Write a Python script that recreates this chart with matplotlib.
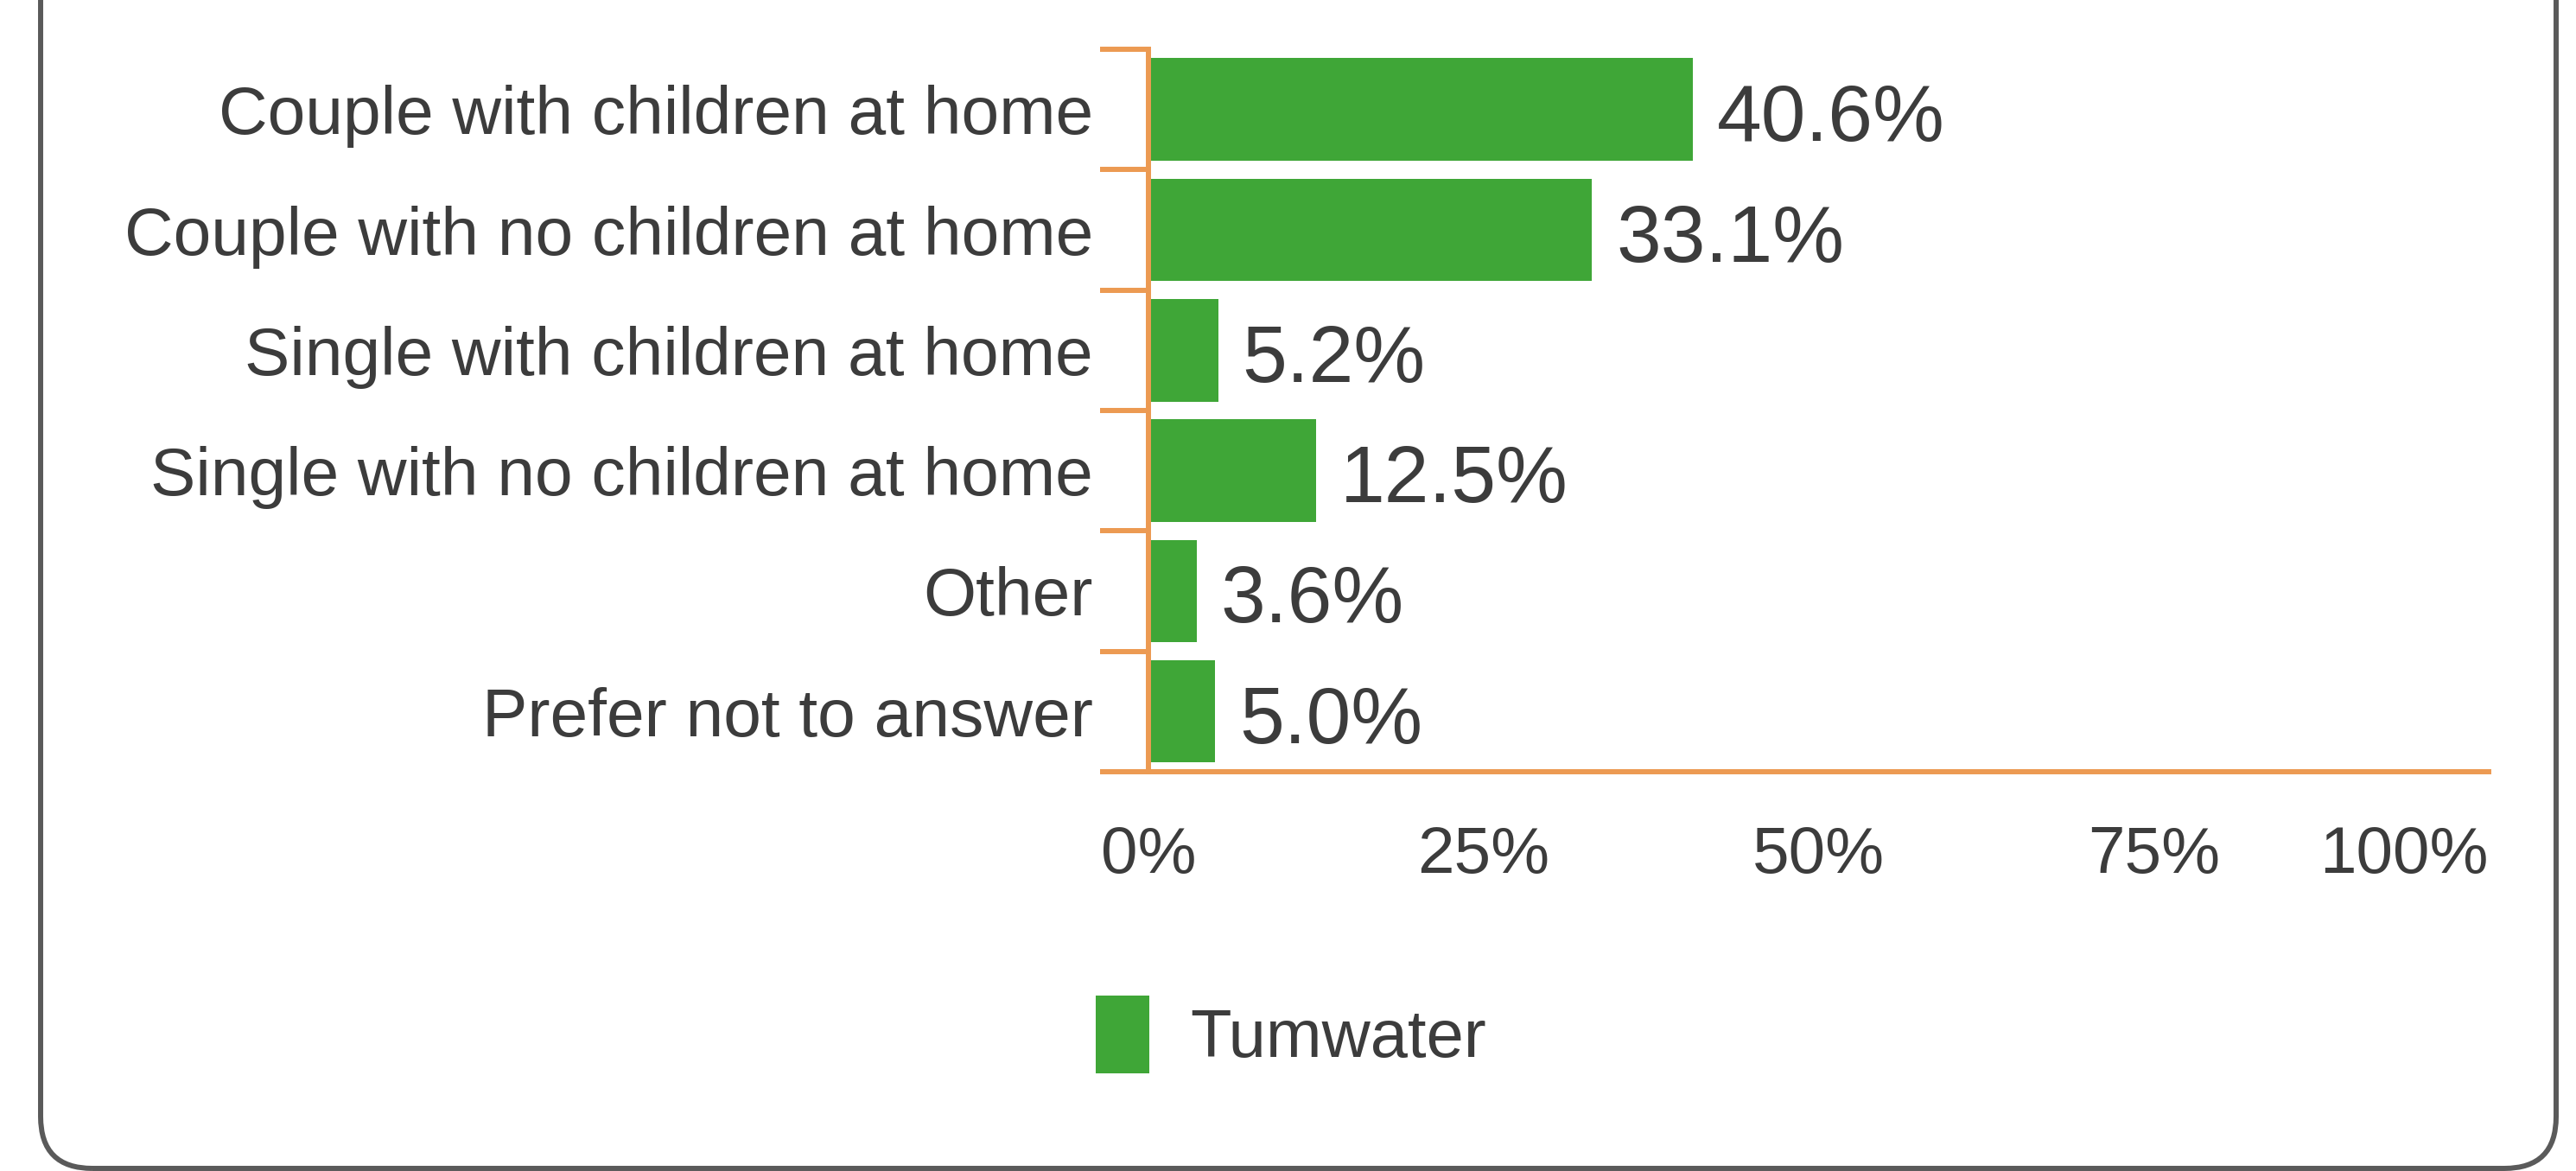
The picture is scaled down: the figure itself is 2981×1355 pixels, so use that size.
import numpy as np
import matplotlib.pyplot as plt
from matplotlib.patches import FancyBboxPatch
from matplotlib.transforms import IdentityTransform

categories = ['Couple with children at home', 'Couple with no children at home',
              'Single with children at home', 'Single with no children at home',
              'Other', 'Prefer not to answer']
tumwater = [40.6, 33.1, 5.2, 12.5, 3.6, 5.0]
xtick_vals = [0, 25, 50, 75, 100]
xtick_labels = ['0%', '25%', '50%', '75%', '100%']
series_name = 'Tumwater'

green = '#3fa637'
orange = '#ec9a52'
txt = '#3c3c3c'

plt.rcParams['font.family'] = ['Liberation Sans', 'DejaVu Sans']

fig = plt.figure(figsize=(29.81, 13.55), dpi=100)
ax = fig.add_axes([0.4458, 0.3410, 0.5203, 0.6169])

ind = np.arange(len(categories))
bars = ax.barh(ind, tumwater, height=0.85, color=green, label=series_name)

ax.set_xlim(0, 100)
ax.set_ylim(len(categories) - 0.5, -0.5)

# value labels to the right of each bar
for rect, v in zip(bars, tumwater):
    ax.annotate('%.1f%%' % v, (rect.get_width(), rect.get_y() + rect.get_height() / 2),
                xytext=(20, -9), textcoords='offset points',
                ha='left', va='center', fontsize=67, color=txt)

# y axis: ticks on category boundaries, labels in between
ax.set_yticks(np.arange(len(categories) + 1) - 0.5)
ax.set_yticklabels([])
ax.tick_params(axis='y', which='major', length=40, width=4.3, color=orange, direction='out')
ax.set_yticks(ind, minor=True)
ax.set_yticklabels(categories, minor=True, fontsize=56.5, color=txt)
ax.tick_params(axis='y', which='minor', length=0, pad=46)

ax.set_xticks(xtick_vals)
ax.set_xticklabels(xtick_labels, fontsize=55, color=txt)
ax.tick_params(axis='x', length=0, pad=45)
ax.get_xticklabels()[-1].set_ha('right')

for s in ['top', 'right']:
    ax.spines[s].set_visible(False)
for s in ['left', 'bottom']:
    ax.spines[s].set_color(orange)
    ax.spines[s].set_linewidth(4.3)

fig.legend(handles=[bars], labels=[series_name], loc='center left',
           bbox_to_anchor=(0.4254, 0.1166), frameon=False, fontsize=56,
           handlelength=0.8, handleheight=1.4, handletextpad=0.6,
           borderpad=0, borderaxespad=0, labelcolor=txt)

# rounded frame, open at the top
frame = FancyBboxPatch((47, 3), 2911, 1600, boxstyle='round,pad=0,rounding_size=60',
                       transform=IdentityTransform(), fill=False,
                       edgecolor='#5a5a5a', linewidth=4.3)
fig.add_artist(frame)

plt.savefig('out.png', dpi=100)
